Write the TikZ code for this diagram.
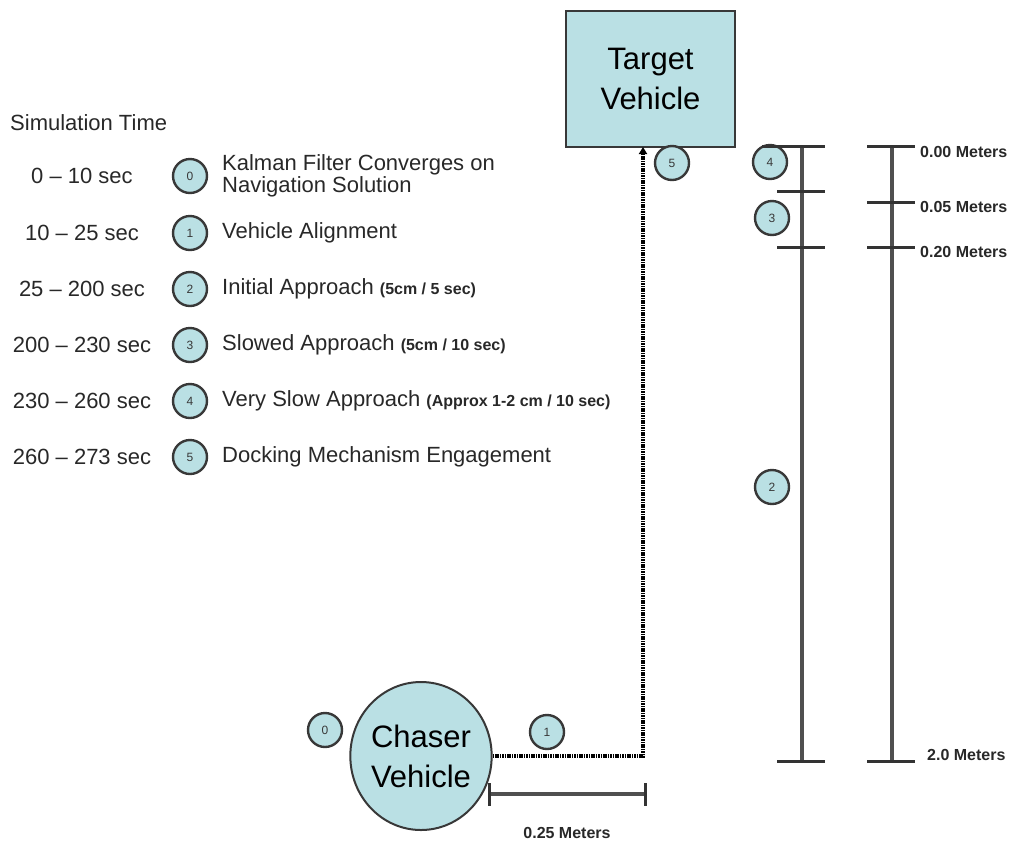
\documentclass[tikz,border=0pt]{standalone}
\usepackage{fontspec}
\setmainfont{Liberation Sans}
\usepackage{tikz}
\usetikzlibrary{shapes.geometric,arrows.meta,positioning}
\definecolor{vehfill}{RGB}{186,224,228}
\definecolor{edgegray}{RGB}{56,56,56}
\definecolor{rulegray}{RGB}{80,80,80}
\definecolor{inkgray}{RGB}{40,40,40}
\newcommand{\smallnote}[1]{{\bfseries\fontsize{16}{16}\selectfont #1}}
\tikzset{
  vehicle/.style={draw=edgegray, line width=2pt, fill=vehfill, align=center,
    font=\fontsize{31}{40}\selectfont, inner sep=0pt},
  stage/.style={circle, draw=edgegray, line width=2.4pt, fill=vehfill, minimum size=34pt,
    inner sep=0pt, text=edgegray, font=\fontsize{12}{12}\selectfont},
  timelbl/.style={font=\fontsize{22}{22}\selectfont, text=inkgray, inner sep=0pt},
  desc/.style={anchor=west, align=left, font=\fontsize{22}{22}\selectfont, text=inkgray, inner sep=0pt},
  meters/.style={anchor=west, inner sep=0pt, text=inkgray, font=\bfseries\fontsize{16}{16}\selectfont},
  ruler/.style={draw=rulegray, line width=3.5pt},
  tick/.style={draw=black!80, line width=3pt},
  dotpath/.style={line width=4pt, dash pattern=on 1.6pt off 0.8pt}
}
\begin{document}
\begin{tikzpicture}[x=1pt, y=-1pt]
      \useasboundingbox (0,0) rectangle (1019,844);
      \node[vehicle, minimum width=169pt, minimum height=136pt] (target) at (650.5,79) {Target\\Vehicle};
      \node[vehicle, ellipse, minimum width=136pt, minimum height=148pt] (chaser) at (421,756) {Chaser\\Vehicle};
      \node[timelbl, anchor=west] (simtime) at (10,123) {Simulation Time};
      \foreach \n/\y/\t in {0/176/{0 – 10 sec}, 1/233/{10 – 25 sec}, 2/289/{25 – 200 sec},
                            3/345/{200 – 230 sec}, 4/401/{230 – 260 sec}, 5/457/{260 – 273 sec}} {
        \node[timelbl] (time\n) at (82,\y) {\t};
        \node[stage] (key\n) at (190,\y) {\n};
      }
      \node[desc] (desc0) at (222,176) {Kalman Filter Converges on\\Navigation Solution};
      \node[desc] (desc1) at (222,233) {Vehicle Alignment};
      \node[desc] (desc2) at (222,289) {Initial Approach \smallnote{(5cm / 5 sec)}};
      \node[desc] (desc3) at (222,345) {Slowed Approach \smallnote{(5cm / 10 sec)}};
      \node[desc] (desc4) at (222,401) {Very Slow Approach \smallnote{(Approx 1-2 cm / 10 sec)}};
      \node[desc] (desc5) at (222,457) {Docking Mechanism Engagement};
      \node[stage] (align0) at (325,730) {0};
      \node[stage] (align1) at (547,732) {1};
      \node[stage] (dock5) at (672,163) {5};
      \node[stage] (slow4) at (770,162) {4};
      \node[stage] (slow3) at (772,218) {3};
      \node[stage] (slow2) at (772,487) {2};
      \coordinate (dock) at (643,147);
      \draw[dotpath, -{Triangle[length=7pt, width=8pt]}] (chaser.east) -| (dock);
      \draw[ruler] (802,146) -- (802,761);
      \draw[tick] (762,146) -- (825,146);
      \draw[tick] (777,191) -- (825,191);
      \draw[tick] (777,247) -- (825,247);
      \draw[tick] (777,761) -- (825,761);
      \draw[ruler] (892,146) -- (892,761);
      \draw[tick] (867,146) -- (915,146);
      \draw[tick] (867,202) -- (915,202);
      \draw[tick] (867,247) -- (915,247);
      \draw[tick] (867,761) -- (915,761);
      \node[meters] (m000) at (920,152) {0.00 Meters};
      \node[meters] (m005) at (920,207) {0.05 Meters};
      \node[meters] (m020) at (920,252) {0.20 Meters};
      \node[meters] (m200) at (927,755) {2.0 Meters};
      \draw[ruler] (489,794) -- (645,794);
      \draw[tick] (489,783) -- (489,806);
      \draw[tick] (645,783) -- (645,806);
      \node[meters, anchor=center] (m025) at (567,833) {0.25 Meters};
\end{tikzpicture}
\end{document}
